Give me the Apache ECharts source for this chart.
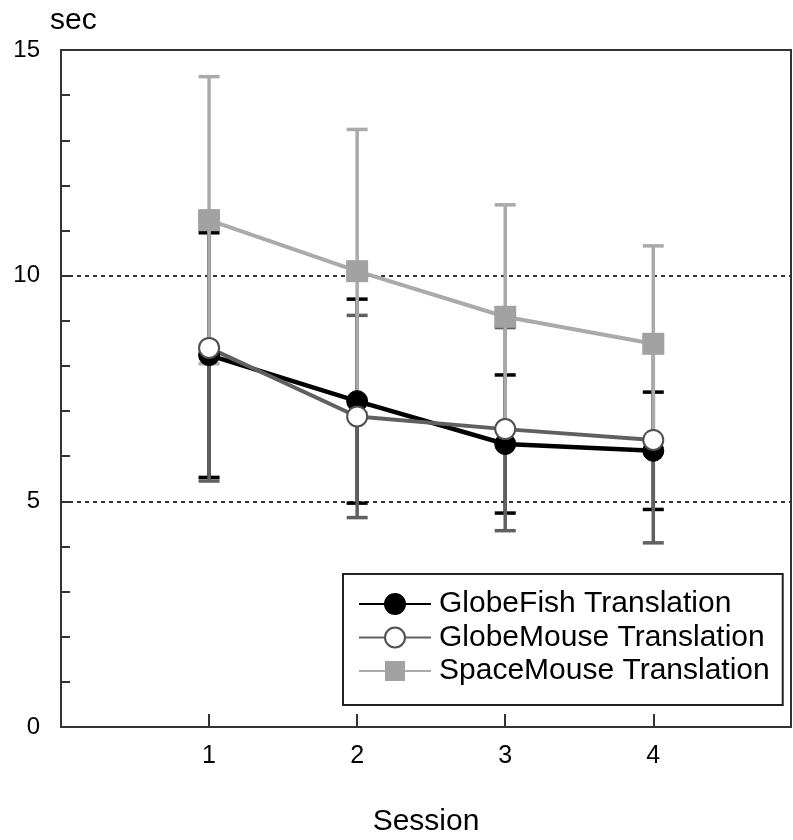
<!DOCTYPE html>
<html>
<head>
<meta charset="utf-8">
<script src="https://cdn.jsdelivr.net/npm/echarts@6/dist/echarts.min.js"></script>
<style>
html,body{margin:0;padding:0;background:#fff;}
#chart{width:793px;height:840px;}
</style>
</head>
<body>
<div id="chart"></div>
<script>
const sessions = [1, 2, 3, 4];
const globeFishMean = [8.24, 7.22, 6.27, 6.12];
const globeFishSD = [2.71, 2.26, 1.53, 1.30];
const globeMouseMean = [8.40, 6.88, 6.60, 6.36];
const globeMouseSD = [2.95, 2.24, 2.25, 2.28];
const spaceMouseMean = [11.23, 10.10, 9.09, 8.49];
const spaceMouseSD = [3.18, 3.14, 2.48, 2.17];
const yTicks = [0, 5, 10, 15];
const seriesNames = ['GlobeFish Translation', 'GlobeMouse Translation', 'SpaceMouse Translation'];

const FONT = "'Liberation Sans', Arial, sans-serif";

function pts(mean) { return sessions.map((s, i) => [s, mean[i]]); }
function errs(mean, sd) { return sessions.map((s, i) => [s, mean[i] - sd[i], mean[i] + sd[i]]); }

function errRender(color) {
  return function (params, api) {
    const x = api.value(0);
    const lo = api.coord([x, api.value(1)]);
    const hi = api.coord([x, api.value(2)]);
    const w = 10.5;
    const st = { stroke: color, lineWidth: 3.5 };
    return {
      type: 'group',
      children: [
        { type: 'line', shape: { x1: lo[0], y1: lo[1], x2: hi[0], y2: hi[1] }, style: st },
        { type: 'line', shape: { x1: lo[0] - w, y1: lo[1], x2: lo[0] + w, y2: lo[1] }, style: st },
        { type: 'line', shape: { x1: hi[0] - w, y1: hi[1], x2: hi[0] + w, y2: hi[1] }, style: st }
      ]
    };
  };
}

const yMin = yTicks[0], yMax = yTicks[yTicks.length - 1];

const chart = echarts.init(document.getElementById('chart'));
chart.setOption({
  animation: false,
  backgroundColor: '#fff',
  textStyle: { fontFamily: FONT },
  grid: { left: 61, right: 2, top: 50, bottom: 113, outerBoundsMode: 'none', containLabel: false,
    show: true, borderColor: '#333', borderWidth: 2, backgroundColor: 'transparent' },
  xAxis: {
    type: 'value', min: 0, max: 4.93, interval: 1,
    name: 'Session', nameLocation: 'middle', nameGap: 80,
    nameTextStyle: { fontFamily: FONT, fontSize: 30, color: '#000' },
    axisLine: { show: true, lineStyle: { color: '#333', width: 2 } },
    axisTick: { show: true, inside: true, length: 13, lineStyle: { color: '#333', width: 2 } },
    axisLabel: { fontFamily: FONT, fontSize: 25, color: '#000', margin: 17,
      formatter: v => (sessions.indexOf(v) >= 0 ? String(v) : '') },
    splitLine: { show: false }
  },
  yAxis: [{
    type: 'value', min: yMin, max: yMax, interval: 5,
    name: 'sec', nameLocation: 'end', nameGap: 14,
    nameTextStyle: { fontFamily: FONT, fontSize: 30, color: '#000', align: 'left', padding: [0, 0, 0, -11] },
    axisLine: { show: true, lineStyle: { color: '#333', width: 2 } },
    axisTick: { show: true, inside: true, length: 9, lineStyle: { color: '#333', width: 2 } },
    axisLabel: { fontFamily: FONT, fontSize: 24, color: '#000', margin: 21 },
    splitLine: { show: true, lineStyle: { color: '#333', width: 2, type: [4, 4] } }
  }, {
    type: 'value', min: yMin, max: yMax, interval: 1, position: 'left',
    axisLine: { show: false },
    axisTick: { show: true, inside: true, length: 9, lineStyle: { color: '#333', width: 2 } },
    axisLabel: { show: false },
    splitLine: { show: false }
  }],
  legend: {
    data: seriesNames,
    orient: 'vertical', align: 'left',
    left: 343, top: 574,
    padding: [15, 13, 19, 15],
    itemWidth: 72, itemHeight: 25, itemGap: 3.5,
    borderColor: '#222', borderWidth: 2, backgroundColor: '#fff',
    textStyle: { fontFamily: FONT, fontSize: 30, color: '#000', lineHeight: 30, padding: [0, 0, 0, 3] }
  },
  series: [
    { name: 'GlobeFish err', type: 'custom', renderItem: errRender('#000'), data: errs(globeFishMean, globeFishSD), z: 1, silent: true },
    { name: 'GlobeMouse err', type: 'custom', renderItem: errRender('#606060'), data: errs(globeMouseMean, globeMouseSD), z: 1, silent: true },
    { name: 'SpaceMouse err', type: 'custom', renderItem: errRender('#aaaaaa'), data: errs(spaceMouseMean, spaceMouseSD), z: 1, silent: true },
    { name: seriesNames[0], type: 'line', data: pts(globeFishMean), z: 3,
      symbol: 'circle', symbolSize: 21,
      lineStyle: { color: '#000', width: 4.5 },
      itemStyle: { color: '#000', borderColor: '#000', borderWidth: 1 } },
    { name: seriesNames[1], type: 'line', data: pts(globeMouseMean), z: 3,
      symbol: 'circle', symbolSize: 20,
      lineStyle: { color: '#606060', width: 4 },
      itemStyle: { color: '#fff', borderColor: '#505050', borderWidth: 2 } },
    { name: seriesNames[2], type: 'line', data: pts(spaceMouseMean), z: 3,
      symbol: 'rect', symbolSize: 22,
      lineStyle: { color: '#aaaaaa', width: 4 },
      itemStyle: { color: '#a2a2a2' } }
  ]
});
</script>
</body>
</html>
